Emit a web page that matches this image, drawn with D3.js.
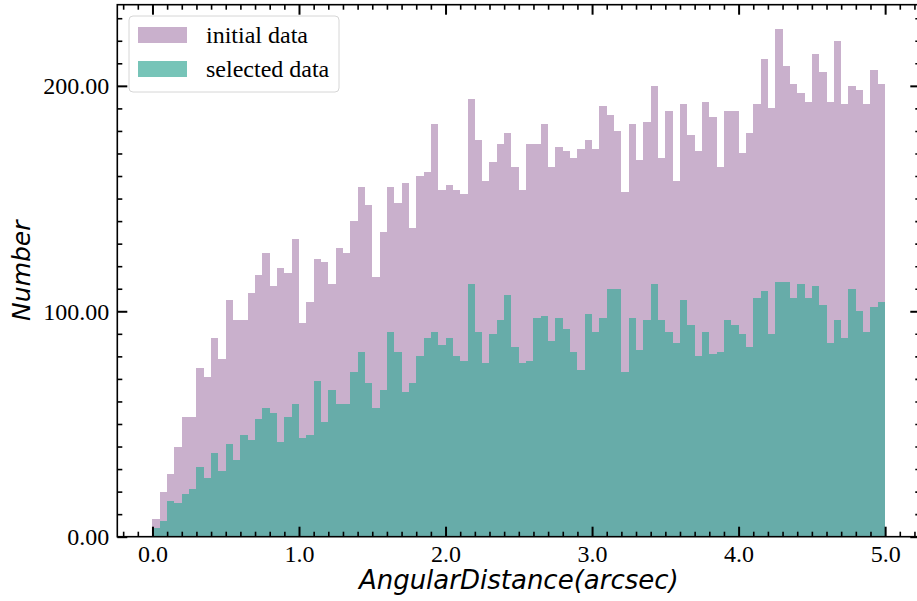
<!DOCTYPE html>
<html>
<head>
<meta charset="utf-8">
<script src="https://cdn.jsdelivr.net/npm/d3@7"></script>
<style>
  body { margin: 0; background: #fff; }
  #plot { width: 917px; height: 601px; }
  .tick text { font-family: "Liberation Serif", "Times New Roman", serif; font-size: 24px; fill: #000; }
  .domain { display: none; }
</style>
</head>
<body>
<div id="plot"></div>
<script>
// histogram bins: 100 bins of 0.05 arcsec from 0 to 5
var binStart = 0,
    binWidth = 0.05;

var initialCounts = [
    8, 20, 28, 40, 53, 53, 75, 71, 88, 79,
    105, 96, 96, 108, 116, 126, 111, 119, 117, 132,
    95, 104, 123, 122, 112, 128, 126, 140, 155, 147,
    115, 135, 155, 148, 157, 137, 160, 162, 183, 154,
    156, 154, 152, 194, 176, 158, 166, 174, 179, 164,
    154, 174, 174, 183, 164, 173, 171, 168, 172, 176,
    172, 191, 187, 180, 153, 183, 167, 184, 200, 168,
    189, 158, 192, 178, 171, 193, 186, 164, 189, 189,
    170, 179, 192, 212, 190, 225, 209, 201, 197, 193,
    214, 206, 193, 220, 192, 200, 198, 192, 207, 201
];

var selectedCounts = [
    4, 7, 16, 15, 19, 21, 31, 26, 37, 29,
    41, 34, 45, 43, 52, 57, 55, 42, 53, 59,
    44, 45, 69, 51, 65, 59, 59, 73, 82, 68,
    57, 65, 91, 82, 64, 68, 80, 88, 91, 85,
    88, 80, 78, 112, 91, 77, 90, 96, 107, 84,
    77, 78, 97, 98, 87, 97, 92, 82, 74, 99,
    91, 97, 110, 110, 73, 97, 83, 96, 112, 96,
    91, 86, 105, 94, 80, 91, 81, 82, 96, 94,
    90, 84, 106, 109, 90, 113, 113, 106, 112, 106,
    111, 103, 86, 96, 88, 110, 100, 91, 102, 104
];

var seriesNames = ["initial data", "selected data"];
var xTickValues = [0, 1, 2, 3, 4, 5];
var yTickValues = [0, 100, 200];

var view = {
    w: 917,
    h: 601,
    left: 117.3,
    right: 920.3,
    top: 4.7,
    bottom: 536.7
};

var svg = d3.select("#plot")
            .append("svg")
            .attr("width", view.w)
            .attr("height", view.h);

var xScale = d3.scaleLinear()
                .domain([-0.24, 5.24])
                .range([view.left, view.right]),
    yScale = d3.scaleLinear()
                .domain([0, 236])
                .range([view.bottom, view.top]);

function toBins(counts) {
    return counts.map(function(c, i) {
        return { x0: binStart + i * binWidth, x1: binStart + (i + 1) * binWidth, n: c };
    });
}

var g_bars = svg.append("g").attr("shape-rendering", "crispEdges");

g_bars.selectAll(".bar_initial")
    .data(toBins(initialCounts))
    .enter().append("rect")
    .attr("class", "bar_initial")
    .attr("x", function(d){ return xScale(d.x0); })
    .attr("y", function(d){ return yScale(d.n); })
    .attr("width", function(d){ return xScale(d.x1) - xScale(d.x0); })
    .attr("height", function(d){ return yScale(0) - yScale(d.n); })
    .style("fill", "#c9b0cc");

g_bars.selectAll(".bar_selected")
    .data(toBins(selectedCounts))
    .enter().append("rect")
    .attr("class", "bar_selected")
    .attr("x", function(d){ return xScale(d.x0); })
    .attr("y", function(d){ return yScale(d.n); })
    .attr("width", function(d){ return xScale(d.x1) - xScale(d.x0); })
    .attr("height", function(d){ return yScale(0) - yScale(d.n); })
    .style("fill", "rgb(61,171,154)")
    .style("fill-opacity", 0.7);

// axes: ticks point inward on all four sides
var majorLen = 10, minorLen = 5;
var xMinor = d3.range(-2, 53).map(function(i){ return i / 10; }).filter(function(v){ return Math.abs(v - Math.round(v)) > 1e-6; });
var yMinor = d3.range(0, 24).map(function(i){ return i * 10; }).filter(function(v){ return v % 100 !== 0; });

function styleTicks(g, w) {
    g.selectAll(".tick line").attr("stroke", "#000").attr("stroke-width", w);
}

var gx = svg.append("g").attr("transform", "translate(0," + view.bottom + ")")
    .call(d3.axisBottom(xScale).tickValues(xTickValues).tickSize(-majorLen).tickPadding(8)
        .tickFormat(d3.format(".1f")));
styleTicks(gx, 2);
svg.append("g").attr("transform", "translate(0," + view.bottom + ")")
    .call(d3.axisBottom(xScale).tickValues(xMinor).tickSize(-minorLen).tickFormat(""))
    .call(styleTicks, 1.6);

var gxt = svg.append("g").attr("transform", "translate(0," + view.top + ")")
    .call(d3.axisTop(xScale).tickValues(xTickValues).tickSize(-majorLen).tickFormat(""));
styleTicks(gxt, 2);
svg.append("g").attr("transform", "translate(0," + view.top + ")")
    .call(d3.axisTop(xScale).tickValues(xMinor).tickSize(-minorLen).tickFormat(""))
    .call(styleTicks, 1.6);

var gy = svg.append("g").attr("transform", "translate(" + view.left + ",0)")
    .call(d3.axisLeft(yScale).tickValues(yTickValues).tickSize(-majorLen).tickPadding(8)
        .tickFormat(d3.format(".2f")));
styleTicks(gy, 2);
gy.selectAll(".tick text").attr("dy", "0.33em");
svg.append("g").attr("transform", "translate(" + view.left + ",0)")
    .call(d3.axisLeft(yScale).tickValues(yMinor).tickSize(-minorLen).tickFormat(""))
    .call(styleTicks, 1.6);

var gyr = svg.append("g").attr("transform", "translate(" + view.right + ",0)")
    .call(d3.axisRight(yScale).tickValues(yTickValues).tickSize(-majorLen).tickFormat(""));
styleTicks(gyr, 2);
svg.append("g").attr("transform", "translate(" + view.right + ",0)")
    .call(d3.axisRight(yScale).tickValues(yMinor).tickSize(-minorLen).tickFormat(""))
    .call(styleTicks, 1.6);

// frame
svg.append("rect")
    .attr("x", view.left)
    .attr("y", view.top)
    .attr("width", view.right - view.left)
    .attr("height", view.bottom - view.top)
    .style("fill", "none")
    .style("stroke", "#000")
    .style("stroke-width", 1.6);

// axis titles
svg.append("text")
    .attr("x", (view.left + view.right) / 2)
    .attr("y", 589)
    .attr("text-anchor", "middle")
    .style("font-family", "DejaVu Sans")
    .style("font-style", "italic")
    .style("font-size", "26px")
    .text("AngularDistance(arcsec)");

svg.append("text")
    .attr("transform", "translate(30," + (view.top + view.bottom) / 2 + ") rotate(-90)")
    .attr("text-anchor", "middle")
    .style("font-family", "DejaVu Sans")
    .style("font-style", "italic")
    .style("font-size", "25px")
    .text("Number");

// legend
var g_legend = svg.append("g").attr("transform", "translate(129,16)");
g_legend.append("rect")
    .attr("width", 210)
    .attr("height", 76)
    .attr("rx", 4)
    .style("fill", "#fff")
    .style("fill-opacity", 0.8)
    .style("stroke", "#d6d6d6")
    .style("stroke-width", 1);

var legendColors = [
    { fill: "#c9b0cc", op: 1 },
    { fill: "rgb(61,171,154)", op: 0.7 }
];

g_legend.selectAll(".lg_patch")
    .data(seriesNames)
    .enter().append("rect")
    .attr("class", "lg_patch")
    .attr("x", 9)
    .attr("y", function(d, i){ return 11 + i * 34; })
    .attr("width", 49)
    .attr("height", 16)
    .style("fill", function(d, i){ return legendColors[i].fill; })
    .style("fill-opacity", function(d, i){ return legendColors[i].op; });

g_legend.selectAll(".lg_text")
    .data(seriesNames)
    .enter().append("text")
    .attr("class", "lg_text")
    .attr("x", 77)
    .attr("y", function(d, i){ return 27 + i * 34; })
    .style("font-family", "Liberation Serif")
    .style("font-size", "24px")
    .text(function(d){ return d; });
</script>
</body>
</html>
